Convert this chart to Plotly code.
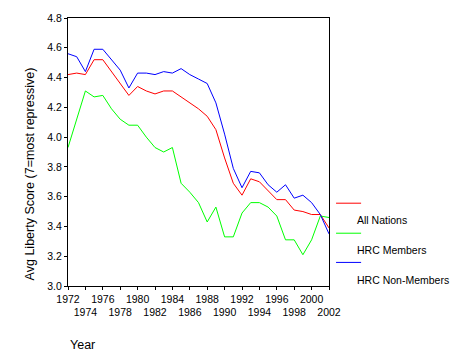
import plotly.graph_objects as go

years = list(range(1972, 2003))
all_nations = [4.42, 4.43, 4.42, 4.52, 4.52, 4.44, 4.36, 4.28, 4.34, 4.31, 4.29, 4.31, 4.31, 4.27, 4.23, 4.19, 4.14,
               4.05, 3.86, 3.69, 3.61, 3.72, 3.70, 3.64, 3.58, 3.58, 3.51, 3.50, 3.48, 3.48, 3.39]
hrc_members = [3.93, 4.12, 4.31, 4.27, 4.28, 4.19, 4.12, 4.08, 4.08, 4.00, 3.93, 3.90, 3.93, 3.69, 3.63, 3.56, 3.43,
               3.53, 3.33, 3.33, 3.49, 3.56, 3.56, 3.53, 3.47, 3.31, 3.31, 3.21, 3.31, 3.47, 3.46]
hrc_non_members = [4.56, 4.54, 4.44, 4.59, 4.59, 4.52, 4.45, 4.33, 4.43, 4.43, 4.42, 4.44, 4.43, 4.46, 4.42, 4.39, 4.36,
                   4.23, 4.02, 3.79, 3.66, 3.77, 3.76, 3.68, 3.63, 3.68, 3.59, 3.61, 3.56, 3.48, 3.35]

series_names = ["All Nations", "HRC Members", "HRC Non-Members"]
series_values = [all_nations, hrc_members, hrc_non_members]
series_colors = ["#FF0000", "#00FF00", "#0000FF"]

tick_years = list(range(1972, 2003, 2))
tick_labels = [str(y) if i % 2 == 0 else "<br>" + str(y) for i, y in enumerate(tick_years)]
y_ticks = [3.0, 3.2, 3.4, 3.6, 3.8, 4.0, 4.2, 4.4, 4.6, 4.8]

FONT = "Arial, Liberation Sans, sans-serif"

fig = go.Figure()
for name, vals, col in zip(series_names, series_values, series_colors):
    fig.add_trace(go.Scatter(x=years, y=vals, mode="lines", name=name,
                             line=dict(color=col, width=1), showlegend=False))

# custom legend (line above its label)
leg_line_y = [0.309, 0.197, 0.088]
leg_text_y = [0.247, 0.134, 0.022]
for name, col, ly, ty in zip(series_names, series_colors, leg_line_y, leg_text_y):
    fig.add_shape(type="line", xref="paper", yref="paper", x0=1.027, x1=1.123, y0=ly, y1=ly,
                  line=dict(color=col, width=1))
    fig.add_annotation(text=name, xref="paper", yref="paper", x=1.100, y=ty, xanchor="left",
                       yanchor="middle", showarrow=False, font=dict(family=FONT, size=10.5, color="black"))

fig.add_annotation(text="Avg Liberty Score (7=most repressive)", xref="paper", yref="paper",
                   x=-0.142, y=0.42, textangle=-90, xanchor="center", yanchor="middle",
                   showarrow=False, font=dict(family=FONT, size=12.5, color="black"))
fig.add_annotation(text="Year", xref="paper", yref="paper", x=0, y=-0.22, xanchor="left",
                   yanchor="middle", showarrow=False, font=dict(family=FONT, size=12.5, color="black"))

fig.update_layout(
    width=452, height=362,
    margin=dict(l=68, r=123, t=18, b=76),
    paper_bgcolor="white", plot_bgcolor="white",
    font=dict(family=FONT, size=10.5, color="black"),
    xaxis=dict(range=[1972, 2002], tickmode="array", tickvals=tick_years, ticktext=tick_labels,
               showgrid=False, zeroline=False, showline=True, linecolor="black", linewidth=1,
               mirror=True, ticks="outside", ticklen=3, tickcolor="black", tickangle=0),
    yaxis=dict(range=[3.0, 4.8], tickmode="array", tickvals=y_ticks,
               ticktext=[f"{v:.1f}" for v in y_ticks],
               showgrid=False, zeroline=False, showline=True, linecolor="black", linewidth=1,
               mirror=True, ticks="outside", ticklen=3, tickcolor="black"),
)

fig.write_html("out.html", config={"displayModeBar": False},
               post_script="document.body.style.margin='0';document.body.style.overflow='hidden';")
